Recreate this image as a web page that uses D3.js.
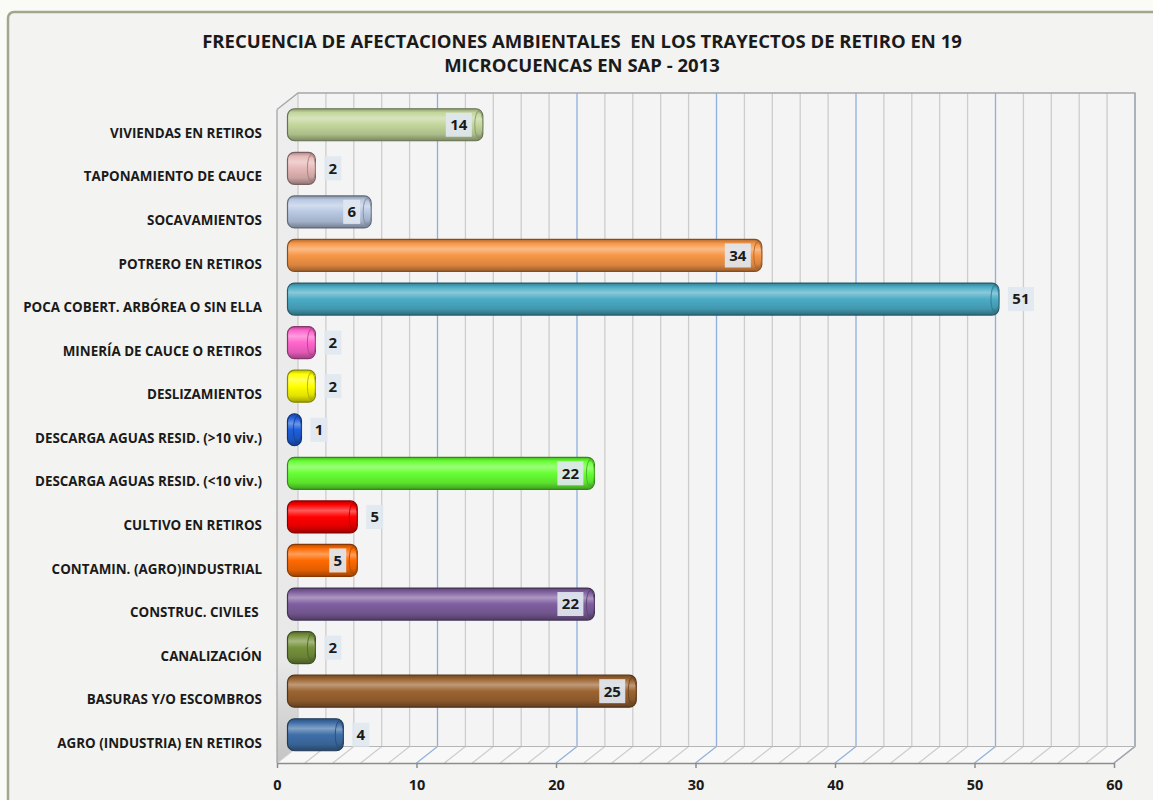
<!DOCTYPE html>
<html>
<head>
<meta charset="utf-8">
<script src="https://cdn.jsdelivr.net/npm/d3@7"></script>
<style>
  body { margin: 0; background: #f7f7f5; }
  svg { display: block; }
</style>
</head>
<body>
<div class="grafico"></div>
<script>
// datos del grafico (de arriba hacia abajo)
var categorias = [
    "VIVIENDAS EN RETIROS",
    "TAPONAMIENTO DE CAUCE",
    "SOCAVAMIENTOS",
    "POTRERO EN RETIROS",
    "POCA COBERT. ARBÓREA O SIN ELLA",
    "MINERÍA DE CAUCE O RETIROS",
    "DESLIZAMIENTOS",
    "DESCARGA AGUAS RESID. (>10 viv.)",
    "DESCARGA AGUAS RESID. (<10 viv.)",
    "CULTIVO EN RETIROS",
    "CONTAMIN. (AGRO)INDUSTRIAL",
    "CONSTRUC. CIVILES ",
    "CANALIZACIÓN",
    "BASURAS Y/O ESCOMBROS",
    "AGRO (INDUSTRIA) EN RETIROS"
];
var frecuencias = [14, 2, 6, 34, 51, 2, 2, 1, 22, 5, 5, 22, 2, 25, 4];
var colores = ["#c3d69b", "#e6b9b8", "#b9c9e3", "#f79646", "#4bacc6", "#ff66cc", "#ffff00",
               "#1f5fdc", "#66ff33", "#ff0000", "#ff6a00", "#7f5f9f", "#76923c", "#9c6431", "#3f6fa8"];
var posEtiqueta = ["in", "out", "in", "in", "out", "out", "out", "out", "in", "out", "in", "in", "out", "in", "out"];
var ticksX = [0, 10, 20, 30, 40, 50, 60];
var titulo = ["FRECUENCIA DE AFECTACIONES AMBIENTALES  EN LOS TRAYECTOS DE RETIRO EN 19",
              "MICROCUENCAS EN SAP - 2013"];

var width = 1153, height = 800;
var dx = 21, dy = -16.5;   // profundidad 3D
var yFrente = 763, yTop = 93;
var fuente = "'Open Sans', sans-serif";

var svg = d3.select(".grafico").append("svg")
    .attr("width", width)
    .attr("height", height);

var defs = svg.append("defs");

// fondo
svg.append("rect").attr("width", width).attr("height", height).attr("fill", "#fafaf7");
svg.append("rect")
    .attr("x", 8).attr("y", 12)
    .attr("width", 1160).attr("height", 800)
    .attr("rx", 6)
    .attr("fill", "#f3f3f1")
    .attr("stroke", "#a3a68c")
    .attr("stroke-width", 2.5);

// titulo
svg.selectAll(".titulo").data(titulo).enter()
    .append("text")
    .attr("x", 582)
    .attr("y", function (d, i) { return 48 + i * 24; })
    .attr("text-anchor", "middle")
    .attr("font-family", fuente)
    .attr("font-weight", "bold")
    .attr("font-size", 18.5)
    .attr("fill", "#1a1a1a")
    .style("white-space", "pre")
    .text(function (d) { return d; });

var x = d3.scaleLinear().domain([0, 60]).range([277, 1114]);
var y = d3.scalePoint().domain(categorias).range([133, 743]);

// pared izquierda
var sombra = defs.append("linearGradient")
    .attr("id", "sombra").attr("x1", 0).attr("y1", 0).attr("x2", 0).attr("y2", 1);
sombra.append("stop").attr("offset", 0).attr("stop-color", "#eeeeee");
sombra.append("stop").attr("offset", 0.85).attr("stop-color", "#e8e8e8");
sombra.append("stop").attr("offset", 1).attr("stop-color", "#c4c4c4");
svg.append("polygon")
    .attr("points", [[x(0), yTop - dy], [x(0) + dx, yTop], [x(0) + dx, yFrente + dy], [x(0), yFrente]].join(" "))
    .attr("fill", "url(#sombra)");
// pared del fondo
svg.append("rect")
    .attr("x", x(0) + dx).attr("y", yTop)
    .attr("width", x(60) - x(0)).attr("height", yFrente + dy - yTop)
    .attr("fill", "#f4f4f4");
// piso
svg.append("polygon")
    .attr("points", [[x(0), yFrente], [x(0) + dx, yFrente + dy], [x(60) + dx, yFrente + dy], [x(60), yFrente]].join(" "))
    .attr("fill", "#f8f8f8");

// lineas de division cada 2
var grid = d3.range(0, 61, 2);
svg.selectAll(".gridv").data(grid).enter()
    .append("line")
    .attr("x1", function (d) { return x(d) + dx; })
    .attr("x2", function (d) { return x(d) + dx; })
    .attr("y1", yTop)
    .attr("y2", yFrente + dy)
    .attr("stroke", function (d) { return d % 10 == 0 && d > 0 ? "#8fb0dc" : "#cdcdcd"; })
    .attr("stroke-width", 1.3);
svg.selectAll(".gridp").data(grid).enter()
    .append("line")
    .attr("x1", function (d) { return x(d); })
    .attr("x2", function (d) { return x(d) + dx; })
    .attr("y1", yFrente)
    .attr("y2", yFrente + dy)
    .attr("stroke", function (d) { return d % 10 == 0 && d > 0 ? "#8fb0dc" : "#cdcdcd"; })
    .attr("stroke-width", 1.2);

// bordes
svg.append("path")
    .attr("d", "M" + x(0) + "," + (yTop - dy) + "L" + (x(0) + dx) + "," + yTop + "L" + (x(60) + dx) + "," + yTop
        + "L" + (x(60) + dx) + "," + (yFrente + dy) + "L" + x(60) + "," + yFrente)
    .attr("fill", "none")
    .attr("stroke", "#a6a6a6")
    .attr("stroke-width", 1.3);
svg.append("line")
    .attr("x1", x(0) + dx).attr("x2", x(60) + dx)
    .attr("y1", yFrente + dy).attr("y2", yFrente + dy)
    .attr("stroke", "#b5b5b5");
svg.append("line")
    .attr("x1", x(0)).attr("x2", x(0))
    .attr("y1", yTop - dy).attr("y2", yFrente)
    .attr("stroke", "#a6a6a6")
    .attr("stroke-width", 1.3);

// eje x
var ejeX = svg.append("g")
    .attr("transform", "translate(0," + yFrente + ")")
    .call(d3.axisBottom(x).tickValues(ticksX).tickSize(5).tickSizeOuter(0).tickPadding(12));
ejeX.select(".domain").attr("stroke", "#8c8c8c").attr("stroke-width", 1.5);
ejeX.selectAll(".tick line").attr("stroke", "#8c8c8c").attr("stroke-width", 1.5);
ejeX.selectAll("text")
    .attr("font-family", fuente)
    .attr("font-weight", "bold")
    .attr("font-size", 14.5)
    .attr("fill", "#1a1a1a");

// eje y (categorias)
var ejeY = svg.append("g")
    .attr("transform", "translate(264,0)")
    .call(d3.axisLeft(y).tickSize(0).tickPadding(2));
ejeY.select(".domain").remove();
ejeY.selectAll("text")
    .attr("font-family", fuente)
    .attr("font-weight", "bold")
    .attr("font-size", 13.4)
    .attr("fill", "#1a1a1a")
    .style("white-space", "pre");

// gradientes de cilindro
colores.forEach(function (c, i) {
    var base = d3.color(c);
    var g = defs.append("linearGradient")
        .attr("id", "cil" + i)
        .attr("x1", 0).attr("y1", 0).attr("x2", 0).attr("y2", 1);
    var stops = [
        [0, base.darker(0.9)],
        [0.12, base],
        [0.3, d3.interpolateRgb(base, "#ffffff")(0.35)],
        [0.5, base],
        [0.8, base.darker(0.35)],
        [1, base.darker(1.3)]
    ];
    stops.forEach(function (s) {
        g.append("stop").attr("offset", s[0]).attr("stop-color", s[1]);
    });
});

var r = 16;
var barras = svg.selectAll(".barra").data(frecuencias).enter()
    .append("g")
    .attr("class", "barra");

barras.append("rect")
    .attr("x", x(0) + dx / 2)
    .attr("y", function (d, i) { return y(categorias[i]) + dy / 2 - r; })
    .attr("width", function (d) { return x(d) - x(0); })
    .attr("height", 2 * r)
    .attr("rx", 7)
    .attr("fill", function (d, i) { return "url(#cil" + i + ")"; })
    .attr("stroke", function (d, i) { return d3.color(colores[i]).darker(1.8); })
    .attr("stroke-width", 1.2);

barras.append("ellipse")
    .attr("cx", function (d) { return x(d) + dx / 2 - 4; })
    .attr("cy", function (d, i) { return y(categorias[i]) + dy / 2; })
    .attr("rx", 4)
    .attr("ry", r - 2)
    .attr("fill", function (d, i) { return "url(#cil" + i + ")"; })
    .attr("stroke", function (d, i) { return d3.color(colores[i]).darker(1); })
    .attr("stroke-width", 1)
    .attr("opacity", 0.9);

// etiquetas de valor
function anchoEtq(d) { return String(d).length * 9 + 8; }
var etiquetas = svg.selectAll(".etq").data(frecuencias).enter()
    .append("g")
    .attr("transform", function (d, i) {
        var w = anchoEtq(d);
        var fin = x(d) + dx / 2;
        var cx = posEtiqueta[i] == "in" ? fin - 11 - w / 2 : fin + 9 + w / 2;
        return "translate(" + cx + "," + (y(categorias[i]) + dy / 2) + ")";
    });
etiquetas.append("rect")
    .attr("x", function (d) { return -anchoEtq(d) / 2; })
    .attr("y", -12)
    .attr("width", anchoEtq)
    .attr("height", 24)
    .attr("fill", "#e1e7ef")
    .attr("opacity", 0.92);
etiquetas.append("text")
    .attr("text-anchor", "middle")
    .attr("dy", "0.36em")
    .attr("font-family", fuente)
    .attr("font-weight", "bold")
    .attr("font-size", 15)
    .attr("fill", "#1a1a1a")
    .text(function (d) { return d; });
</script>
</body>
</html>
